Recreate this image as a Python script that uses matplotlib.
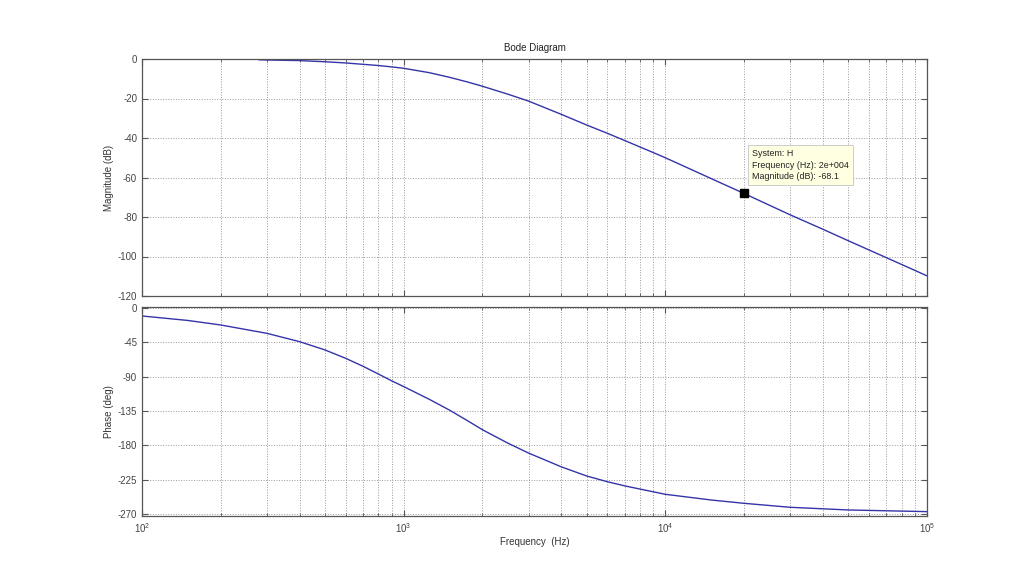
import numpy as np
import matplotlib
matplotlib.use("Agg")
import matplotlib.pyplot as plt
from matplotlib.ticker import LogLocator, NullFormatter

plt.rcParams['font.family'] = ['Liberation Sans', 'DejaVu Sans']

# magnitude curve (Hz, dB)
mag_freq = [280, 300, 400, 500, 600, 700, 800, 900, 1000, 1250, 1500, 1750, 2000, 2500, 3000,
            4000, 5000, 6000, 7000, 9000, 10000, 15000, 20000, 30000, 40000, 50000, 85000, 100000]
mag_db = [-0.4, -0.5, -0.8, -1.4, -2.0, -2.7, -3.3, -4.0, -4.7, -6.9, -9.3, -11.6, -13.8, -17.8,
          -21.3, -28.0, -33.4, -37.6, -41.3, -47.4, -50.0, -60.6, -68.1, -78.9, -86.2, -92.0,
          -105.6, -109.8]

# phase curve (Hz, deg)
ph_freq = [100, 150, 200, 300, 400, 500, 600, 700, 800, 900, 1000, 1250, 1500, 1750, 2000,
           2500, 3000, 4000, 5000, 6000, 7000, 10000, 15000, 20000, 30000, 50000, 100000]
ph_deg = [-10.6, -16.5, -22.4, -33.3, -44.2, -55.0, -66.0, -76.5, -86.5, -95.5, -103.0, -119.5,
          -134.0, -147.5, -159.5, -177.0, -190.0, -208.0, -220.0, -227.5, -233.0, -244.0,
          -251.5, -255.8, -261.0, -264.5, -266.7]

tip_freq = 2e4
tip_mag = -68.1

mag_ticks = [0, -20, -40, -60, -80, -100, -120]
ph_ticks = [0, -45, -90, -135, -180, -225, -270]

line_col = '#3434a8'
frame_col = '#555555'

fig = plt.figure(figsize=(10.24, 5.8), dpi=100)
ax1 = fig.add_axes([142/1024, 1-296/580, 785/1024, 237/580])
ax2 = fig.add_axes([142/1024, 1-516/580, 785/1024, 209.5/580])

for ax in (ax1, ax2):
    ax.set_xscale('log')
    ax.set_xlim(1e2, 1e5)
    ax.xaxis.set_minor_locator(LogLocator(base=10, subs=np.arange(2, 10)))
    ax.xaxis.set_minor_formatter(NullFormatter())
    ax.tick_params(which='both', direction='in', top=True, right=True,
                   colors=frame_col, labelsize=7, labelcolor='#444444')
    ax.tick_params(which='major', length=4)
    ax.tick_params(which='minor', length=2)
    ax.grid(True, which='major', linestyle=':', color='#999999', linewidth=0.7)
    ax.grid(True, which='minor', axis='x', linestyle=':', color='#999999', linewidth=0.7)
    for s in ax.spines.values():
        s.set_color(frame_col)
        s.set_linewidth(0.9)

ax1.plot(mag_freq, mag_db, color=line_col, linewidth=1.0)
ax1.set_ylim(-120, 0)
ax1.set_yticks(mag_ticks)
ax1.set_yticklabels([str(t) for t in mag_ticks])
ax1.tick_params(axis='x', labelbottom=False)
ax1.set_ylabel('Magnitude (dB)', fontsize=7, color='#333333', labelpad=3)
ax1.set_title('Bode Diagram', fontsize=7, color='#222222', pad=6)

ax1.plot([tip_freq], [tip_mag], marker='s', color='black', markersize=5.5, zorder=5)
ax1.annotate('System: H\nFrequency (Hz): 2e+004\nMagnitude (dB): -68.1',
             xy=(tip_freq, tip_mag), xytext=(8, 12), textcoords='offset pixels',
             ha='left', va='bottom', fontsize=6.4, color='#222222', linespacing=1.4,
             bbox=dict(boxstyle='square,pad=0.45', facecolor='#ffffe1',
                       edgecolor='#cccccc', linewidth=0.7), zorder=6)

ax2.plot(ph_freq, ph_deg, color=line_col, linewidth=1.0)
ax2.set_ylim(-272.4, 1.8)
ax2.set_yticks(ph_ticks)
ax2.set_yticklabels([str(t) for t in ph_ticks])
ax2.set_ylabel('Phase (deg)', fontsize=7, color='#333333', labelpad=3)
ax2.set_xlabel('Frequency  (Hz)', fontsize=7, color='#333333', labelpad=2)

fig.savefig('out.png', dpi=100, facecolor='white')
